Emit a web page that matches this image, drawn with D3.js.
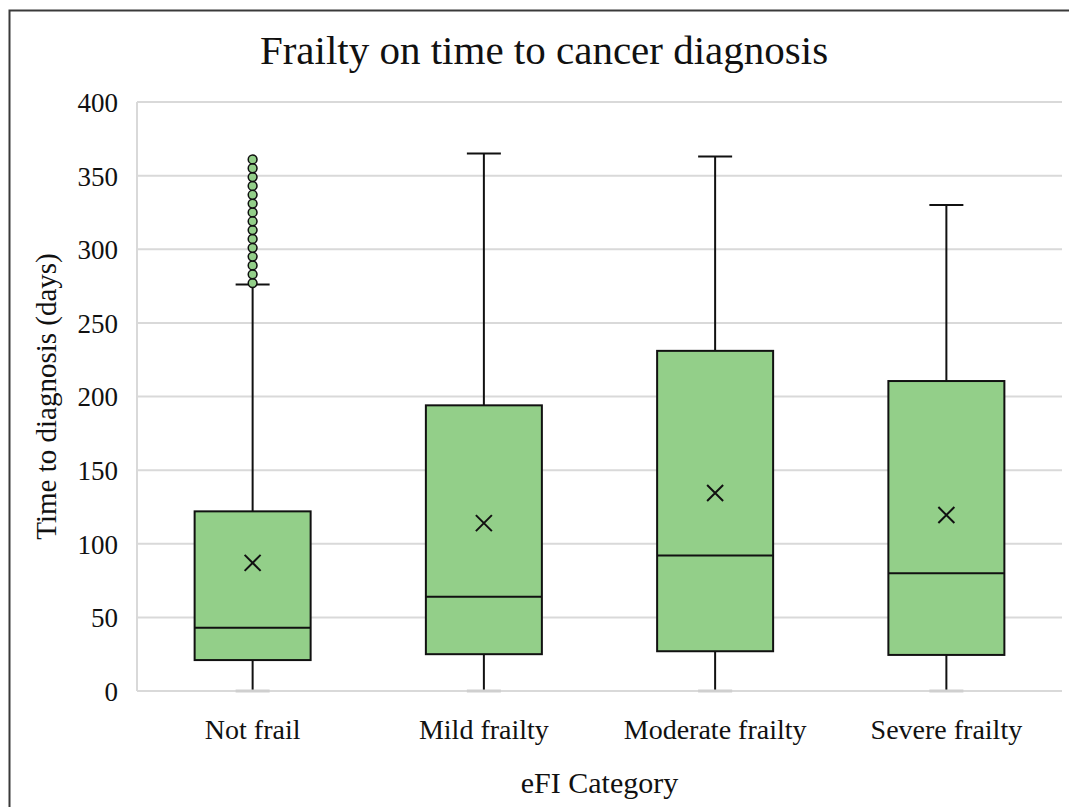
<!DOCTYPE html>
<html>
<head>
<meta charset="utf-8">
<script src="https://cdn.jsdelivr.net/npm/d3@7"></script>
<style>
  body { margin: 0; background: #fff; }
  text { font-family: "Liberation Serif", "DejaVu Serif", serif; fill: #111; }
</style>
</head>
<body>
<div id="chart"></div>
<script>
// values
var categories = ["Not frail", "Mild frailty", "Moderate frailty", "Severe frailty"];
var mins = [0, 0, 0, 0];
var q1s = [21, 25, 27, 24.5];
var medians = [43, 64, 92, 80];
var q3s = [122, 194, 231, 210.5];
var maxs = [276, 365, 363, 330];
var means = [87, 114, 134.5, 119.5];
var outliersNotFrail = [277, 283, 289, 295, 301, 307, 313, 319, 325, 331, 337, 343, 349, 355, 361];
var yTicks = [0, 50, 100, 150, 200, 250, 300, 350, 400];

var svgWidth = 1069;
var svgHeight = 807;

var margin = { top: 102, right: 7, bottom: 116, left: 137 };
var width = svgWidth - margin.left - margin.right;
var height = svgHeight - margin.top - margin.bottom;

var boxes = categories.map(function(c, i) {
  return { cat: c, min: mins[i], q1: q1s[i], med: medians[i], q3: q3s[i], max: maxs[i], mean: means[i],
    outliers: i === 0 ? outliersNotFrail : [] };
});

var svg = d3.select("#chart")
  .append("svg")
  .attr("width", svgWidth)
  .attr("height", svgHeight);

// outer frame
svg.append("rect")
  .attr("x", 9.5).attr("y", 10.5)
  .attr("width", 1100).attr("height", 900)
  .attr("fill", "none")
  .attr("stroke", "#3a3a3a")
  .attr("stroke-width", 2);

var chartGroup = svg.append("g")
  .attr("transform", `translate(${margin.left}, ${margin.top})`);

var xScale = d3.scaleBand()
  .domain(categories)
  .range([0, width]);

var yScale = d3.scaleLinear()
  .domain([0, 400])
  .range([height, 0]);

// gridlines
chartGroup.append("g")
  .selectAll("line")
  .data(yTicks)
  .enter()
  .append("line")
  .attr("x1", 0)
  .attr("x2", width)
  .attr("y1", d => yScale(d))
  .attr("y2", d => yScale(d))
  .attr("stroke", "#d9d9d9")
  .attr("stroke-width", 2);

chartGroup.append("line")
  .attr("x1", 0).attr("x2", 0)
  .attr("y1", 0).attr("y2", height)
  .attr("stroke", "#d9d9d9")
  .attr("stroke-width", 2);

var leftAxis = d3.axisLeft(yScale).tickValues(yTicks).tickSize(0).tickPadding(19);
var axisY = chartGroup.append("g").call(leftAxis);
axisY.select(".domain").remove();
axisY.selectAll("text")
  .attr("font-size", "27px")
  .attr("fill", "#111")
  .attr("dy", "0.35em")
  .style("font-family", "'Liberation Serif', serif");

var bottomAxis = d3.axisBottom(xScale).tickSize(0).tickPadding(28);
var axisX = chartGroup.append("g")
  .attr("transform", `translate(0, ${height})`)
  .call(bottomAxis);
axisX.select(".domain").remove();
axisX.selectAll("text")
  .attr("font-size", "28px")
  .attr("fill", "#111")
  .style("font-family", "'Liberation Serif', serif");

var boxWidth = 116;
var capWidth = 34;

var g = chartGroup.selectAll(".box")
  .data(boxes)
  .enter()
  .append("g")
  .attr("class", "box")
  .attr("transform", d => `translate(${xScale(d.cat) + xScale.bandwidth() / 2}, 0)`);

// whiskers
g.append("line")
  .attr("x1", 0).attr("x2", 0)
  .attr("y1", d => yScale(d.max))
  .attr("y2", d => yScale(d.q3))
  .attr("stroke", "#111").attr("stroke-width", 2);
g.append("line")
  .attr("x1", 0).attr("x2", 0)
  .attr("y1", d => yScale(d.q1))
  .attr("y2", d => yScale(d.min))
  .attr("stroke", "#111").attr("stroke-width", 2);

// caps
g.append("line")
  .attr("x1", -capWidth / 2).attr("x2", capWidth / 2)
  .attr("y1", d => yScale(d.max))
  .attr("y2", d => yScale(d.max))
  .attr("stroke", "#111").attr("stroke-width", 2);
g.append("line")
  .attr("x1", -capWidth / 2).attr("x2", capWidth / 2)
  .attr("y1", d => yScale(d.min))
  .attr("y2", d => yScale(d.min))
  .attr("stroke", "#cfcfcf").attr("stroke-width", 3);

// box
g.append("rect")
  .attr("x", -boxWidth / 2)
  .attr("width", boxWidth)
  .attr("y", d => yScale(d.q3))
  .attr("height", d => yScale(d.q1) - yScale(d.q3))
  .attr("fill", "#93cf89")
  .attr("stroke", "#111")
  .attr("stroke-width", 2);

// median
g.append("line")
  .attr("x1", -boxWidth / 2).attr("x2", boxWidth / 2)
  .attr("y1", d => yScale(d.med))
  .attr("y2", d => yScale(d.med))
  .attr("stroke", "#111").attr("stroke-width", 2);

// mean marker
var m = 8;
g.append("path")
  .attr("d", d => {
    var y = yScale(d.mean);
    return `M${-m},${y - m}L${m},${y + m}M${m},${y - m}L${-m},${y + m}`;
  })
  .attr("stroke", "#111")
  .attr("stroke-width", 2);

// outliers
g.selectAll(".outlier")
  .data(d => d.outliers)
  .enter()
  .append("circle")
  .attr("class", "outlier")
  .attr("cx", 0)
  .attr("cy", d => yScale(d))
  .attr("r", 4.4)
  .attr("fill", "#93cf89")
  .attr("stroke", "#111")
  .attr("stroke-width", 1.5);

// titles
svg.append("text")
  .attr("x", 544)
  .attr("y", 64)
  .attr("text-anchor", "middle")
  .attr("font-size", "41px")
  .text("Frailty on time to cancer diagnosis");

svg.append("text")
  .attr("transform", `translate(56, ${margin.top + height / 2}) rotate(-90)`)
  .attr("text-anchor", "middle")
  .attr("font-size", "29px")
  .text("Time to diagnosis (days)");

svg.append("text")
  .attr("x", margin.left + width / 2)
  .attr("y", 793)
  .attr("text-anchor", "middle")
  .attr("font-size", "30px")
  .text("eFI Category");
</script>
</body>
</html>
